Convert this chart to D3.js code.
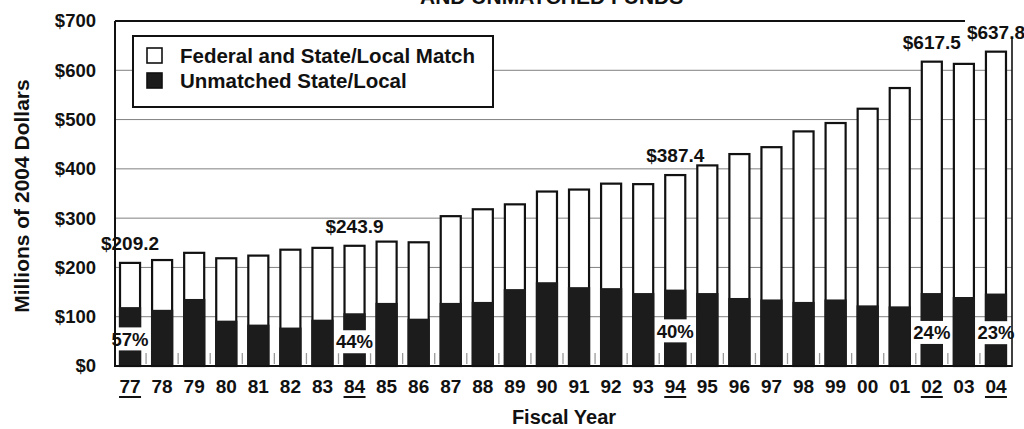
<!DOCTYPE html>
<html>
<head>
<meta charset="utf-8">
<script src="https://cdn.jsdelivr.net/npm/d3@7"></script>
<style>
  body { margin: 0; background: #fff; }
  text { font-family: "Liberation Sans", Arial, sans-serif; font-weight: bold; fill: #111; }
</style>
</head>
<body>
<div id="chart"></div>
<script>

var years = ["77", "78", "79", "80", "81", "82", "83", "84", "85", "86", "87", "88", "89", "90",
             "91", "92", "93", "94", "95", "96", "97", "98", "99", "00", "01", "02", "03", "04"];

// total (federal + state/local match + unmatched), millions of 2004 dollars
var totals = [209.2, 215, 229.6, 218.6, 224, 236, 239.7, 243.9, 252.4, 251, 304, 318, 328, 354,
              358, 370, 369, 387.4, 407, 430, 444, 476, 493, 522, 564, 617.5, 613, 637.8];

// unmatched state/local part
var unmatched = [119.5, 114, 136, 92, 84, 78, 94, 107, 128, 96, 128, 130, 156, 170,
                 160, 158, 148, 155, 148, 138, 135, 130, 135, 123, 121, 148, 140, 147];

var markedYears = ["77", "84", "94", "02", "04"];
var totalLabels = ["$209.2", "$243.9", "$387.4", "$617.5", "$637.8"];
var shareLabels = ["57%", "44%", "40%", "24%", "23%"];

var yTicks = [0, 100, 200, 300, 400, 500, 600, 700];
var legendItems = ["Federal and State/Local Match", "Unmatched State/Local"];

var data = years.map(function (y, i) {
    return { year: y, total: totals[i], unmatched: unmatched[i] };
});

var width = 1024, height = 429;
var plotLeft = 115, plotRight = 1012, plotBottom = 366, plotTop = 21;
var dark = "#1c1c1c";

var svg = d3.select("#chart")
    .append("svg")
    .attr("width", width)
    .attr("height", height);

var xScale = d3.scaleBand()
    .domain(years)
    .range([plotLeft - 1, plotRight])
    .paddingInner(0.375)
    .paddingOuter(0.1875);

var yScale = d3.scaleLinear()
    .domain([0, 700])
    .range([plotBottom, plotTop]);

// cut-off title at the very top
svg.append("text")
    .attr("x", 420)
    .attr("y", 3.5)
    .style("font-size", "21px")
    .text("AND UNMATCHED FUNDS");

// gridlines
svg.append("g")
    .selectAll("line")
    .data(yTicks.filter(function (d) { return d > 0 && d < 700; }))
    .enter()
    .append("line")
    .attr("x1", plotLeft)
    .attr("x2", plotRight)
    .attr("y1", function (d) { return yScale(d); })
    .attr("y2", function (d) { return yScale(d); })
    .style("stroke", "#808080")
    .style("stroke-width", 1);

// y axis labels
var yAxis = svg.append("g")
    .attr("class", "y-axis")
    .attr("transform", "translate(" + plotLeft + ",0)")
    .call(d3.axisLeft(yScale)
        .tickValues(yTicks)
        .tickSize(0)
        .tickPadding(19)
        .tickFormat(function (d) { return "$" + d; }));
yAxis.select(".domain").remove();
yAxis.selectAll("text")
    .style("font-size", "18.5px")
    .style("font-family", "'Liberation Sans', Arial, sans-serif")
    .style("font-weight", "bold")
    .attr("fill", "#111");

// small ticks between bars
var step = xScale.step();
svg.append("g")
    .selectAll("line")
    .data(years.slice(1))
    .enter()
    .append("line")
    .attr("x1", function (d) { return xScale(d) - step * xScale.paddingInner() / 2; })
    .attr("x2", function (d) { return xScale(d) - step * xScale.paddingInner() / 2; })
    .attr("y1", plotBottom - 13)
    .attr("y2", plotBottom - 2)
    .style("stroke", "#9a9a9a")
    .style("stroke-width", 1.3);

// bars: white full total, dark unmatched part
var bars = svg.append("g").attr("class", "bars");

bars.selectAll("rect.total")
    .data(data)
    .enter()
    .append("rect")
    .attr("class", "total")
    .attr("x", function (d) { return xScale(d.year); })
    .attr("y", function (d) { return yScale(d.total); })
    .attr("width", xScale.bandwidth())
    .attr("height", function (d) { return yScale(0) - yScale(d.total); })
    .style("fill", "#fff")
    .style("stroke", "#111")
    .style("stroke-width", 2.2);

bars.selectAll("rect.unmatched")
    .data(data)
    .enter()
    .append("rect")
    .attr("class", "unmatched")
    .attr("x", function (d) { return xScale(d.year) - 1.1; })
    .attr("y", function (d) { return yScale(d.unmatched); })
    .attr("width", xScale.bandwidth() + 2.2)
    .attr("height", function (d) { return yScale(0) - yScale(d.unmatched); })
    .style("fill", dark);

// share labels cut into the dark part
var marked = data.filter(function (d) { return markedYears.indexOf(d.year) >= 0; });

var shares = svg.append("g")
    .selectAll("g")
    .data(marked)
    .enter()
    .append("g")
    .attr("transform", function (d) {
        return "translate(" + (xScale(d.year) + xScale.bandwidth() / 2) + "," + yScale(d.unmatched * 0.46) + ")";
    });

shares.append("rect")
    .attr("x", -20)
    .attr("y", -11.5)
    .attr("width", 40)
    .attr("height", 23)
    .style("fill", "#fff");

shares.append("text")
    .attr("text-anchor", "middle")
    .attr("dy", "0.36em")
    .style("font-size", "18.5px")
    .text(function (d, i) { return shareLabels[i]; });

// total labels above bars
svg.append("g")
    .selectAll("text")
    .data(marked)
    .enter()
    .append("text")
    .attr("x", function (d) { return xScale(d.year) + xScale.bandwidth() / 2; })
    .attr("y", function (d) { return yScale(d.total) - 13; })
    .attr("text-anchor", "middle")
    .style("font-size", "19px")
    .text(function (d, i) { return totalLabels[i]; });

// frame
svg.append("line")
    .attr("x1", plotLeft).attr("x2", 965)
    .attr("y1", yScale(700)).attr("y2", yScale(700))
    .style("stroke", "#111").style("stroke-width", 2);
svg.append("line")
    .attr("x1", plotLeft).attr("x2", plotLeft)
    .attr("y1", yScale(700)).attr("y2", plotBottom + 1)
    .style("stroke", "#111").style("stroke-width", 2);
svg.append("line")
    .attr("x1", plotRight).attr("x2", plotRight)
    .attr("y1", 38).attr("y2", plotBottom + 1)
    .style("stroke", "#111").style("stroke-width", 1.6);
svg.append("line")
    .attr("x1", plotLeft).attr("x2", plotRight)
    .attr("y1", plotBottom).attr("y2", plotBottom)
    .style("stroke", "#111").style("stroke-width", 2.2);

// x axis labels
var xAxis = svg.append("g")
    .attr("class", "x-axis")
    .attr("transform", "translate(0," + plotBottom + ")")
    .call(d3.axisBottom(xScale).tickSize(0).tickPadding(14));
xAxis.select(".domain").remove();
xAxis.selectAll("text")
    .style("font-size", "19px")
    .style("font-family", "'Liberation Sans', Arial, sans-serif")
    .style("font-weight", "bold")
    .attr("fill", "#111");

svg.append("g")
    .selectAll("line")
    .data(markedYears)
    .enter()
    .append("line")
    .attr("x1", function (d) { return xScale(d) + xScale.bandwidth() / 2 - 11; })
    .attr("x2", function (d) { return xScale(d) + xScale.bandwidth() / 2 + 11; })
    .attr("y1", 397)
    .attr("y2", 397)
    .style("stroke", "#111")
    .style("stroke-width", 2);

// axis titles
svg.append("text")
    .attr("x", 564)
    .attr("y", 424)
    .attr("text-anchor", "middle")
    .style("font-size", "20px")
    .text("Fiscal Year");

svg.append("text")
    .attr("transform", "translate(29,196) rotate(-90)")
    .attr("text-anchor", "middle")
    .style("font-size", "21px")
    .text("Millions of 2004 Dollars");

// legend
var legend = svg.append("g").attr("class", "legend");

legend.append("rect")
    .attr("x", 133)
    .attr("y", 36)
    .attr("width", 360)
    .attr("height", 71)
    .style("fill", "#fff")
    .style("stroke", "#111")
    .style("stroke-width", 2);

var items = legend.selectAll("g.item")
    .data(legendItems)
    .enter()
    .append("g")
    .attr("class", "item")
    .attr("transform", function (d, i) { return "translate(147," + (48 + i * 25) + ")"; });

items.append("rect")
    .attr("width", 15)
    .attr("height", 15)
    .style("fill", function (d, i) { return i === 0 ? "#fff" : dark; })
    .style("stroke", "#111")
    .style("stroke-width", 1.6);

items.append("text")
    .attr("x", 33)
    .attr("y", 15)
    .style("font-size", "20.5px")
    .text(function (d) { return d; });

</script>
</body>
</html>
